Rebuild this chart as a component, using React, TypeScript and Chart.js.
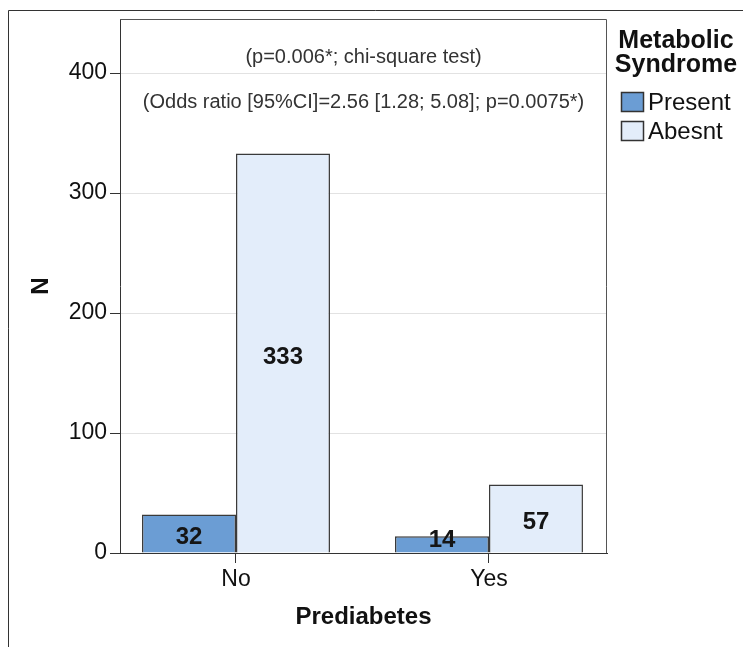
import { useEffect, useRef } from "react";
import { Chart, registerables } from "chart.js";

Chart.register(...registerables);

const categories = ["No", "Yes"];
const seriesLabels = ["Present", "Abesnt"];
const presentValues = [32, 14];
const absentValues = [333, 57];
const seriesColors = ["#6b9dd4", "#e3edfa"];
const yMax = 445;
const yStep = 100;
const annotationLines = [
  "(p=0.006*; chi-square test)",
  "(Odds ratio [95%CI]=2.56 [1.28; 5.08]; p=0.0075*)",
];
const legendTitle = ["Metabolic", "Syndrome"];
const xTitle = "Prediabetes";
const yTitle = "N";

const FONT = "'Liberation Sans', Arial, Helvetica, sans-serif";

const decorPlugin = {
  id: "decor",
  beforeDraw(chart: any) {
    const ctx = chart.ctx;
    ctx.save();
    ctx.fillStyle = "#ffffff";
    ctx.fillRect(0, 0, chart.width, chart.height);
    ctx.restore();
  },
  afterDraw(chart: any) {
    const ctx = chart.ctx;
    const { left, top, right, bottom } = chart.chartArea;
    ctx.save();
    // outer frame
    ctx.strokeStyle = "#333333";
    ctx.lineWidth = 1;
    ctx.beginPath();
    ctx.moveTo(8.5, chart.height);
    ctx.lineTo(8.5, 10.5);
    ctx.lineTo(chart.width, 10.5);
    ctx.stroke();
    // plot frame top/right
    ctx.strokeStyle = "#555555";
    ctx.beginPath();
    ctx.moveTo(left, Math.round(top) + 0.5);
    ctx.lineTo(Math.round(right) - 0.5, Math.round(top) + 0.5);
    ctx.lineTo(Math.round(right) - 0.5, bottom);
    ctx.stroke();

    // annotations
    ctx.fillStyle = "#333333";
    ctx.font = `20px ${FONT}`;
    ctx.textAlign = "center";
    ctx.textBaseline = "middle";
    const cx = (left + right) / 2;
    ctx.fillText(annotationLines[0], cx, top + 38);
    ctx.fillText(annotationLines[1], cx, top + 83);

    // data labels
    ctx.fillStyle = "#151515";
    ctx.font = `bold 24px ${FONT}`;
    chart.data.datasets.forEach((ds: any, di: number) => {
      const meta = chart.getDatasetMeta(di);
      meta.data.forEach((el: any, i: number) => {
        const center = (el.y + el.base) / 2;
        const y = Math.min(center + 4, el.base - 12);
        ctx.fillText(String(ds.data[i]), el.x, y);
      });
    });

    // legend
    const lx = 676;
    ctx.fillStyle = "#111111";
    ctx.font = `bold 25px ${FONT}`;
    ctx.fillText(legendTitle[0], lx, 41);
    ctx.fillText(legendTitle[1], lx, 65);
    ctx.textAlign = "left";
    ctx.font = `24px ${FONT}`;
    chart.data.datasets.forEach((ds: any, di: number) => {
      const by = 92 + di * 29;
      ctx.fillStyle = ds.backgroundColor;
      ctx.fillRect(621, by, 23, 20);
      ctx.strokeStyle = "#333333";
      ctx.lineWidth = 1.5;
      ctx.strokeRect(621.5, by + 0.5, 22, 19);
      ctx.fillStyle = "#111111";
      ctx.fillText(ds.label, 648, by + 11);
    });
    ctx.restore();
  },
};

export default function App() {
  const ref = useRef<HTMLCanvasElement | null>(null);
  useEffect(() => {
    if (!ref.current) return;
    const chart = new Chart(ref.current, {
      type: "bar",
      data: {
        labels: categories,
        datasets: [
          {
            label: seriesLabels[0],
            data: presentValues,
            backgroundColor: seriesColors[0],
            borderColor: "#3a3a3a",
            borderWidth: 1.5,
          },
          {
            label: seriesLabels[1],
            data: absentValues,
            backgroundColor: seriesColors[1],
            borderColor: "#3a3a3a",
            borderWidth: 1.5,
          },
        ],
      },
      options: {
        responsive: true,
        maintainAspectRatio: false,
        animation: false,
        layout: { padding: { left: 0, top: 19, right: 136, bottom: 0 } },
        datasets: {
          bar: { categoryPercentage: 0.743, barPercentage: 1 },
        },
        plugins: {
          legend: { display: false },
          tooltip: { enabled: false },
          title: { display: false },
        },
        scales: {
          x: {
            type: "category",
            offset: true,
            afterBuildTicks: (scale: any) => {
              scale._startValue = -0.4585;
              scale._valueRange = 1.925;
            },
            afterFit: (scale: any) => {
              scale.height = 94;
            },
            grid: {
              display: true,
              drawOnChartArea: false,
              offset: false,
              drawTicks: true,
              tickLength: 10,
              tickColor: "#333333",
            },
            border: { display: true, color: "#333333", width: 1 },
            ticks: {
              color: "#111111",
              font: { family: FONT, size: 23 },
              padding: 3,
              maxRotation: 0,
            },
            title: {
              display: true,
              text: xTitle,
              color: "#111111",
              font: { family: FONT, size: 24, weight: "bold", lineHeight: 1.2 },
              padding: { top: 0, bottom: 15 },
            },
          },
          y: {
            min: 0,
            max: yMax,
            afterFit: (scale: any) => {
              scale.width = 120;
            },
            ticks: {
              stepSize: yStep,
              includeBounds: false,
              color: "#111111",
              font: { family: FONT, size: 23 },
              padding: 3,
            },
            grid: {
              color: "#e2e2e2",
              tickColor: "#333333",
              tickLength: 10,
              drawTicks: true,
            },
            border: { display: true, color: "#333333", width: 1 },
            title: {
              display: true,
              text: yTitle,
              color: "#111111",
              font: { family: FONT, size: 24, weight: "bold", lineHeight: 1.2 },
              padding: { top: 27, bottom: 0 },
            },
          },
        },
      },
      plugins: [decorPlugin],
    });
    return () => chart.destroy();
  }, []);

  return (
    <div style={{ position: "absolute", left: 0, top: 0, width: 743, height: 647 }}>
      <canvas ref={ref} />
    </div>
  );
}
